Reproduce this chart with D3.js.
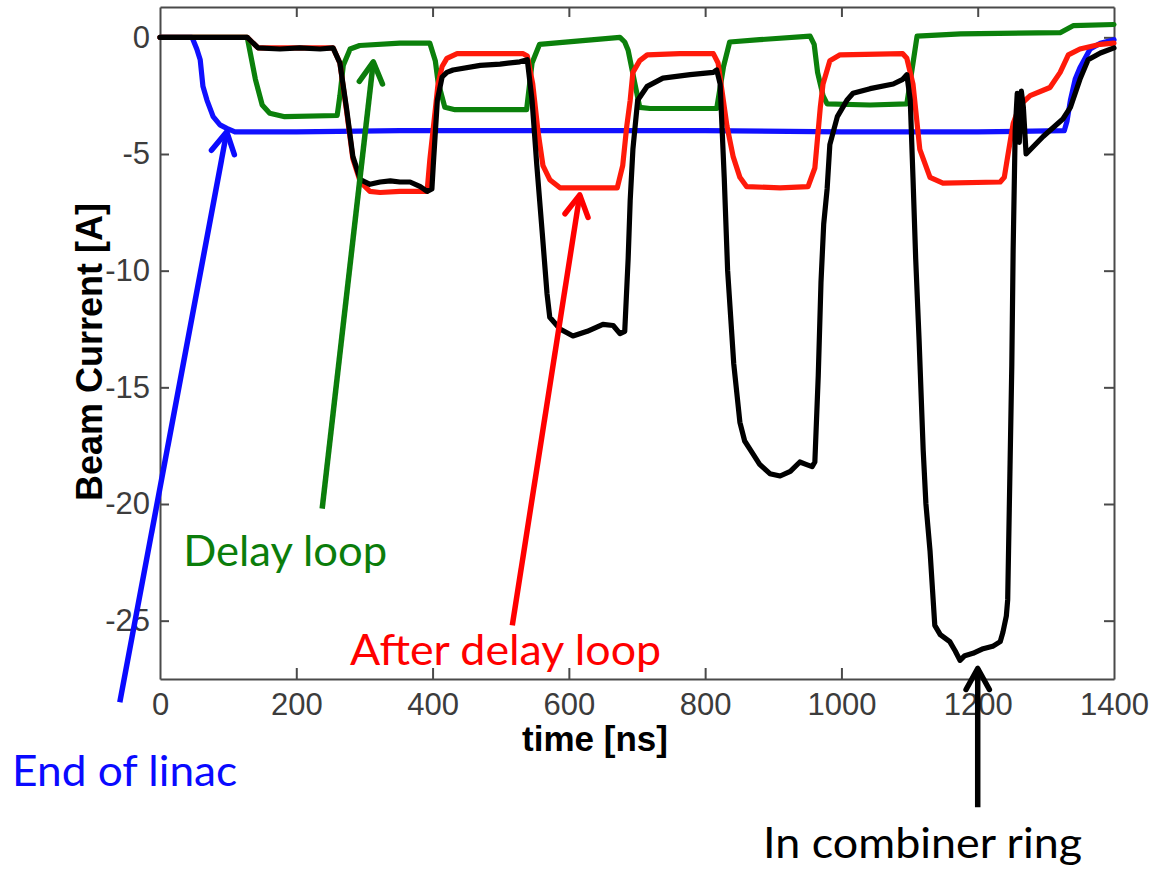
<!DOCTYPE html>
<html>
<head>
<meta charset="utf-8">
<script src="https://cdn.jsdelivr.net/npm/d3@7"></script>
<style>
  html, body { margin: 0; padding: 0; background: #fff; }
  svg { display: block; }
</style>
</head>
<body>
<svg id="chart" width="1155" height="869"></svg>
<script>
// Beam current traces, time in ns, current in A
const endOfLinac = [
  [0, 0], [47, 0], [54, -0.5], [59, -0.96], [63, -2.1], [69, -2.7], [78, -3.4],
  [88, -3.75], [98, -3.9], [110, -4.05], [200, -4.05], [352, -4.0], [600, -4.0],
  [800, -4.0], [1000, -4.05], [1100, -4.05], [1200, -4.05], [1327, -4.0],
  [1331, -3.6], [1336, -2.7], [1343, -1.8], [1350, -1.3], [1365, -0.5],
  [1380, -0.25], [1400, -0.1]
];

const delayLoop = [
  [0, 0], [128, 0], [132, -0.6], [140, -1.8], [150, -2.9], [161, -3.25], [183, -3.4],
  [260, -3.35], [264, -2.5], [269, -1.2], [279, -0.5], [293, -0.35], [352, -0.25],
  [396, -0.25], [404, -1.0], [408, -1.9], [418, -3.0], [433, -3.1], [538, -3.1],
  [546, -1.1], [557, -0.3], [616, -0.15], [675, 0.0], [682, -0.2], [687, -0.55],
  [697, -2.0], [704, -3.0], [719, -3.05], [817, -3.05], [827, -1.25], [836, -0.2],
  [880, -0.1], [954, 0.05], [960, -0.3], [965, -1.5], [973, -2.5], [979, -2.85],
  [1042, -2.9], [1096, -2.85], [1103, -1.5], [1111, 0.05], [1175, 0.15],
  [1321, 0.2], [1340, 0.5], [1400, 0.55]
];

const afterDelayLoop = [
  [0, 0], [128, 0], [135, -0.2], [144, -0.45], [254, -0.45], [264, -1.1], [274, -3.2],
  [283, -5.2], [294, -6.2], [308, -6.6], [323, -6.65], [352, -6.6], [392, -6.6],
  [396, -5.25], [404, -3.1], [408, -2.0], [414, -1.25], [421, -0.9], [436, -0.7],
  [484, -0.7], [533, -0.7], [539, -0.8], [547, -2.0], [555, -4.1], [562, -5.5],
  [572, -6.1], [587, -6.45], [671, -6.45], [679, -5.5], [685, -3.8], [690, -2.7],
  [694, -1.5], [704, -1.0], [715, -0.75], [763, -0.7], [812, -0.7], [819, -1.1],
  [832, -3.8], [841, -5.1], [851, -6.0], [861, -6.4], [910, -6.45], [951, -6.4],
  [961, -5.6], [969, -3.0], [973, -2.0], [983, -1.0], [998, -0.75], [1090, -0.7],
  [1096, -0.9], [1105, -2.0], [1115, -4.8], [1130, -6.0], [1149, -6.25],
  [1233, -6.2], [1239, -6.0], [1244, -5.1], [1252, -3.7], [1262, -2.9],
  [1277, -2.5], [1306, -2.15], [1321, -1.5], [1333, -0.75], [1350, -0.5],
  [1380, -0.3], [1400, -0.25]
];

const combinerRing = [
  [0, 0], [128, 0], [135, -0.2], [144, -0.45], [176, -0.5], [205, -0.45], [235, -0.5],
  [254, -0.45], [264, -1.1], [274, -3.1], [283, -5.1], [294, -6.1], [308, -6.3],
  [323, -6.2], [338, -6.15], [352, -6.2], [367, -6.2], [382, -6.4], [392, -6.6],
  [399, -6.5], [401, -5.5], [407, -2.7], [414, -1.7], [421, -1.5], [430, -1.4],
  [470, -1.2], [499, -1.15], [528, -1.05], [539, -0.96], [546, -2.7], [553, -5.5],
  [561, -8.4], [568, -11.0], [572, -12.0], [587, -12.5], [606, -12.8], [627, -12.6],
  [650, -12.3], [665, -12.35], [675, -12.7], [682, -12.6], [687, -9.5], [690, -7.0],
  [694, -4.8], [701, -2.7], [715, -2.1], [738, -1.75], [778, -1.6], [812, -1.5],
  [817, -1.4], [822, -2.0], [828, -6.0], [833, -10.0], [842, -14.0], [851, -16.5],
  [858, -17.3], [869, -17.8], [880, -18.3], [895, -18.7], [910, -18.8], [925, -18.6],
  [939, -18.2], [948, -18.3], [957, -18.4], [961, -18.2], [966, -14.5], [970, -10.5],
  [974, -8.0], [979, -6.5], [983, -4.6], [994, -3.4], [1008, -2.7], [1017, -2.4],
  [1042, -2.2], [1076, -2.0], [1090, -1.8], [1096, -1.6], [1101, -2.7], [1105, -6.0],
  [1109, -9.5], [1114, -13.0], [1120, -17.7], [1124, -20.0], [1130, -22.0],
  [1137, -25.2], [1145, -25.6], [1159, -25.9], [1167, -26.3], [1174, -26.7],
  [1181, -26.5], [1193, -26.4], [1208, -26.2], [1222, -26.1], [1233, -25.9],
  [1237, -25.5], [1242, -24.8], [1244, -24.1], [1247, -19.1], [1250, -14.1],
  [1252, -9.1], [1255, -4.0], [1258, -2.4], [1261, -4.5], [1264, -2.3], [1267, -3.0],
  [1271, -5.0], [1296, -4.25], [1325, -3.5], [1336, -3.0], [1350, -1.8],
  [1362, -0.96], [1380, -0.67], [1400, -0.45]
];

const xTicks = [0, 200, 400, 600, 800, 1000, 1200, 1400];
const yTicks = [0, -5, -10, -15, -20, -25];
const xDomain = [0, 1400];
const yDomain = [-27.5, 1.3];

// Callouts: label text, colour, arrow tail and tip, label anchor (data units)
const callouts = [
  { text: "End of linac", color: "#0a0aff", tail: [-59, -28.5], tip: [98, -4.05], at: [-217, -32.1], width: 225 },
  { text: "Delay loop", color: "#0b7d0b", tail: [238, -20.2], tip: [313, -1.05], at: [34, -22.65], width: 204 },
  { text: "After delay loop", color: "#ff0000", tail: [517, -25.2], tip: [616, -6.75], at: [279, -26.9], width: 311 },
  { text: "In combiner ring", color: "#000000", tail: [1200, -33.0], tip: [1200, -27.05], at: [885, -35.15], width: 319 }
];

const svg = d3.select("#chart");
const plot = { left: 160, right: 1114, top: 7, bottom: 679 };

const x = d3.scaleLinear().domain(xDomain).range([plot.left, plot.right]);
const y = d3.scaleLinear().domain(yDomain).range([plot.bottom, plot.top]);

const axisColor = "#4a4a4a";
const tickFont = "'Liberation Sans', Arial, sans-serif";

// Frame and inward ticks on all four sides
const gx = svg.append("g").attr("transform", `translate(0,${plot.bottom})`)
  .call(d3.axisBottom(x).tickValues(xTicks).tickSizeInner(-11).tickSizeOuter(0)
    .tickPadding(14).tickFormat(d3.format("d")));
const gxTop = svg.append("g").attr("transform", `translate(0,${plot.top})`)
  .call(d3.axisTop(x).tickValues(xTicks).tickSizeInner(-10).tickSizeOuter(0).tickFormat(""));
const gy = svg.append("g").attr("transform", `translate(${plot.left},0)`)
  .call(d3.axisLeft(y).tickValues(yTicks).tickSizeInner(-9).tickSizeOuter(0)
    .tickPadding(10).tickFormat(d => d === 0 ? "0" : "-" + Math.abs(d)));
const gyRight = svg.append("g").attr("transform", `translate(${plot.right},0)`)
  .call(d3.axisRight(y).tickValues(yTicks).tickSizeInner(-10).tickSizeOuter(0).tickFormat(""));

[gx, gxTop, gy, gyRight].forEach(g => {
  g.select(".domain").attr("stroke", axisColor).attr("stroke-width", 2);
  g.selectAll(".tick line").attr("stroke", axisColor).attr("stroke-width", 2);
  g.selectAll(".tick text")
    .attr("fill", "#3c3c3c")
    .style("font-family", tickFont)
    .style("font-size", "31px");
});
gx.selectAll(".tick line").filter(d => d === 0 || d === 1400).remove();
gxTop.selectAll(".tick line").filter(d => d === 0 || d === 1400).remove();

// Traces
const line = d3.line().x(d => x(d[0])).y(d => y(d[1]));
const traces = [
  { data: endOfLinac, color: "#1010ff" },
  { data: delayLoop, color: "#0b800b" },
  { data: afterDelayLoop, color: "#ff1a0a" },
  { data: combinerRing, color: "#000000" }
];
svg.append("g").selectAll("path").data(traces).join("path")
  .attr("d", d => line(d.data))
  .attr("fill", "none")
  .attr("stroke", d => d.color)
  .attr("stroke-width", 5.2)
  .attr("stroke-linejoin", "round")
  .attr("stroke-linecap", "round");

// Axis titles
svg.append("text")
  .attr("x", 595).attr("y", 751)
  .attr("text-anchor", "middle")
  .style("font-family", tickFont).style("font-weight", "bold").style("font-size", "35px")
  .text("time [ns]");
svg.append("text")
  .attr("transform", "translate(102,352) rotate(-90)")
  .attr("text-anchor", "middle")
  .style("font-family", tickFont).style("font-weight", "bold").style("font-size", "36px")
  .text("Beam Current [A]");

// Callout arrows with open chevron heads
const arrows = svg.append("g");
callouts.forEach(c => {
  const x1 = x(c.tail[0]), y1 = y(c.tail[1]);
  const x2 = x(c.tip[0]), y2 = y(c.tip[1]);
  const ang = Math.atan2(y2 - y1, x2 - x1);
  const head = 24, spread = Math.PI / 6.2;
  const g = arrows.append("g")
    .attr("stroke", c.color).attr("stroke-width", 5.5)
    .attr("stroke-linecap", "round").attr("stroke-linejoin", "round").attr("fill", "none");
  g.append("line").attr("x1", x1).attr("y1", y1).attr("x2", x2).attr("y2", y2).attr("stroke-linecap", "butt");
  g.append("path").attr("d", d3.line()([
    [x2 - head * Math.cos(ang - spread), y2 - head * Math.sin(ang - spread)],
    [x2, y2],
    [x2 - head * Math.cos(ang + spread), y2 - head * Math.sin(ang + spread)]
  ]));
  svg.append("text")
    .attr("x", x(c.at[0])).attr("y", y(c.at[1]))
    .attr("fill", c.color)
    .attr("textLength", c.width).attr("lengthAdjust", "spacingAndGlyphs")
    .style("font-family", "Lato, 'Noto Sans', sans-serif")
    .style("font-size", "43px")
    .text(c.text);
});
</script>
</body>
</html>
